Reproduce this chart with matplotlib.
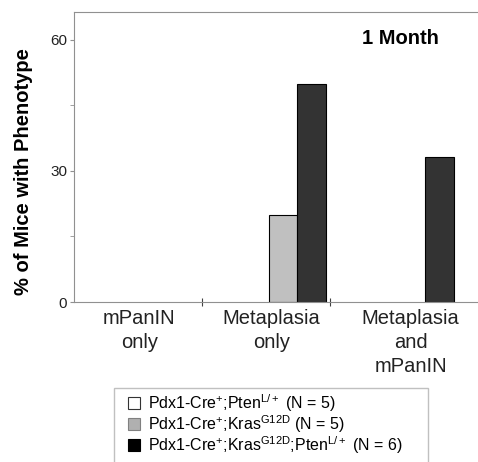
import numpy as np
import matplotlib.pyplot as plt
from matplotlib.patches import Patch, Rectangle

plt.rcParams['font.family'] = ['Liberation Sans', 'DejaVu Sans']
plt.rcParams['mathtext.default'] = 'regular'

# --- Data ---
categories = ["mPanIN\nonly", "Metaplasia\nonly", "Metaplasia\nand\nmPanIN"]
series_labels = [r"Pdx1-Cre$^{+}$;Pten$^{L/+}$ (N = 5)",
                 r"Pdx1-Cre$^{+}$;Kras$^{G12D}$ (N = 5)",
                 r"Pdx1-Cre$^{+}$;Kras$^{G12D}$;Pten$^{L/+}$ (N = 6)"]
pten = [0, 0, 0]
kras = [0, 20, 0]
kras_pten = [0, 50, 33.3]
series = [pten, kras, kras_pten]
colors = ["white", "#c0c0c0", "#333333"]

# --- Figure ---
fig = plt.figure(figsize=(4.78, 4.62), dpi=100)
ax = fig.add_axes([74/478, 1-302/462, 1-74/478, (302-12)/462])

x = np.arange(len(categories))
width = 0.222
offsets = [-0.09, 0.133, 0.355]
for vals, col, off in zip(series, colors, offsets):
    lw = [0.8 if v > 0 else 0 for v in vals]
    ax.bar(x + off, vals, width=width, color=col, edgecolor="black", linewidth=lw)

ax.set_xlim(-0.5, 2.656)
ax.set_ylim(0, 66.4)

for s in ["top", "left", "bottom"]:
    ax.spines[s].set_color("#909090")
ax.spines["right"].set_visible(False)

ax.set_yticks([0, 30, 60])
ax.set_yticks([15, 45], minor=True)
ax.tick_params(axis="y", which="both", direction="out", length=3, color="#909090",
               labelsize=11, labelcolor="#222222", pad=2)
ax.set_xticks([0.5, 1.5])
ax.set_xticklabels([])
ax.tick_params(axis="x", direction="inout", length=6, color="#404040")

label_shift = [0.01, 0.04, 0.13]
for i, (lab, sh) in enumerate(zip(categories, label_shift)):
    ax.text(i + sh, -1.6, lab, ha="center", va="top", fontsize=14.5,
            color="#222222", linespacing=1.32)

ax.set_ylabel("% of Mice with Phenotype", fontsize=14.5, fontweight="bold")
ax.yaxis.set_label_coords(-0.102, 0.45)
ax.text(400/478, 1-38/462, "1 Month", transform=fig.transFigure, ha="center",
        va="center", fontsize=14.5, fontweight="bold")

# legend frame (runs past the bottom edge of the figure)
fig.patches.append(Rectangle((114/478, -0.05), 314/478, 1-388/462+0.05,
                             transform=fig.transFigure, facecolor="white",
                             edgecolor="#c0c0c0", linewidth=1.0))
handles = [Patch(facecolor=c, edgecolor=e, linewidth=0.8)
           for c, e in zip(["white", "#b0b0b0", "black"], ["#333333", "#808080", "black"])]
leg = fig.legend(handles, series_labels, loc="upper left",
                 bbox_to_anchor=(128/478, 1-392/462),
                 fontsize=11.5, frameon=False,
                 handlelength=0.75, handleheight=0.75, handletextpad=0.5,
                 labelspacing=-0.05, borderpad=0.0, borderaxespad=0)

fig.savefig("out.png", dpi=100)
